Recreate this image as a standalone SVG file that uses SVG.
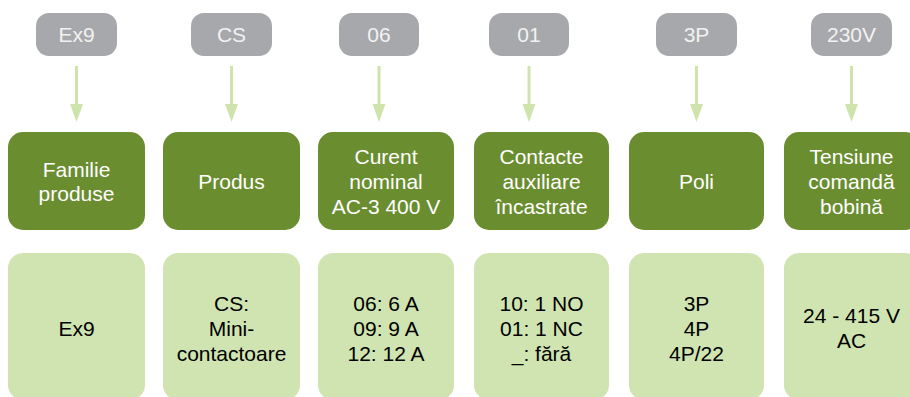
<svg xmlns="http://www.w3.org/2000/svg" width="910" height="397" viewBox="0 0 910 397">
<defs>
<style>
text{font-family:"Liberation Sans",Arial,sans-serif;font-size:21px;text-anchor:middle}
.pill{fill:#a7a8ab}
.pt{fill:#f2f2f2}
.dark{fill:#6a8d2f}
.dt{fill:#ffffff}
.light{fill:#cfe4b0}
.lt{fill:#000000}
.arr{stroke:#cfe4ad;stroke-width:3;fill:none}
.head{fill:#cfe4ad}
</style>
</defs>
<g id="codes">
<g id="code-ex9"><rect class="pill" x="36" y="13" width="81" height="43" rx="13"/><text class="pt" x="76.5" y="42">Ex9</text></g>
<g id="code-cs"><rect class="pill" x="191" y="13" width="81" height="43" rx="13"/><text class="pt" x="231.5" y="42">CS</text></g>
<g id="code-06"><rect class="pill" x="339" y="13" width="80" height="43" rx="13"/><text class="pt" x="379" y="42">06</text></g>
<g id="code-01"><rect class="pill" x="489" y="13" width="80" height="43" rx="13"/><text class="pt" x="529" y="42">01</text></g>
<g id="code-3p"><rect class="pill" x="656" y="13" width="81" height="43" rx="13"/><text class="pt" x="696.5" y="42">3P</text></g>
<g id="code-230v"><rect class="pill" x="811" y="13" width="81" height="43" rx="13"/><text class="pt" x="851.5" y="42">230V</text></g>
</g>
<g id="connectors">
<line class="arr" x1="76.5" y1="66" x2="76.5" y2="106"/><polygon class="head" points="70,104 83,104 76.5,122"/>
<line class="arr" x1="231.5" y1="66" x2="231.5" y2="106"/><polygon class="head" points="225,104 238,104 231.5,122"/>
<line class="arr" x1="379" y1="66" x2="379" y2="106"/><polygon class="head" points="372.5,104 385.5,104 379,122"/>
<line class="arr" x1="529" y1="66" x2="529" y2="106"/><polygon class="head" points="522.5,104 535.5,104 529,122"/>
<line class="arr" x1="696.5" y1="66" x2="696.5" y2="106"/><polygon class="head" points="690,104 703,104 696.5,122"/>
<line class="arr" x1="851.5" y1="66" x2="851.5" y2="106"/><polygon class="head" points="845,104 858,104 851.5,122"/>
</g>
<g id="headers">
<g id="h-familie"><rect class="dark" x="8" y="132" width="137" height="98" rx="15"/><text class="dt" x="76.5" y="177">Familie</text><text class="dt" x="76.5" y="201">produse</text></g>
<g id="h-produs"><rect class="dark" x="163" y="132" width="137" height="98" rx="15"/><text class="dt" x="231.5" y="189">Produs</text></g>
<g id="h-curent"><rect class="dark" x="318" y="132" width="136" height="98" rx="15"/><text class="dt" x="386" y="164">Curent</text><text class="dt" x="386" y="189">nominal</text><text class="dt" x="386" y="214">AC-3 400 V</text></g>
<g id="h-contacte"><rect class="dark" x="474" y="132" width="135" height="98" rx="15"/><text class="dt" x="541.5" y="164">Contacte</text><text class="dt" x="541.5" y="189">auxiliare</text><text class="dt" x="541.5" y="214">încastrate</text></g>
<g id="h-poli"><rect class="dark" x="629" y="132" width="135" height="98" rx="15"/><text class="dt" x="696.5" y="189">Poli</text></g>
<g id="h-tensiune"><rect class="dark" x="784" y="132" width="136" height="98" rx="15"/><text class="dt" x="851.5" y="164">Tensiune</text><text class="dt" x="851.5" y="189">comandă</text><text class="dt" x="851.5" y="214">bobină</text></g>
</g>
<g id="values">
<g id="v-familie"><rect class="light" x="8" y="253" width="137" height="147" rx="15"/><text class="lt" x="76.5" y="336">Ex9</text></g>
<g id="v-produs"><rect class="light" x="163" y="253" width="137" height="147" rx="15"/><text class="lt" x="231.5" y="311">CS:</text><text class="lt" x="231.5" y="336">Mini-</text><text class="lt" x="231.5" y="361">contactoare</text></g>
<g id="v-curent"><rect class="light" x="318" y="253" width="136" height="147" rx="15"/><text class="lt" x="386" y="311">06: 6 A</text><text class="lt" x="386" y="336">09: 9 A</text><text class="lt" x="386" y="361">12: 12 A</text></g>
<g id="v-contacte"><rect class="light" x="474" y="253" width="135" height="147" rx="15"/><text class="lt" x="541.5" y="311">10: 1 NO</text><text class="lt" x="541.5" y="336">01: 1 NC</text><text class="lt" x="541.5" y="361">_: fără</text></g>
<g id="v-poli"><rect class="light" x="629" y="253" width="135" height="147" rx="15"/><text class="lt" x="696.5" y="311">3P</text><text class="lt" x="696.5" y="336">4P</text><text class="lt" x="696.5" y="361">4P/22</text></g>
<g id="v-tensiune"><rect class="light" x="784" y="253" width="136" height="147" rx="15"/><text class="lt" x="851.5" y="323">24 - 415 V</text><text class="lt" x="851.5" y="348">AC</text></g>
</g>
</svg>
